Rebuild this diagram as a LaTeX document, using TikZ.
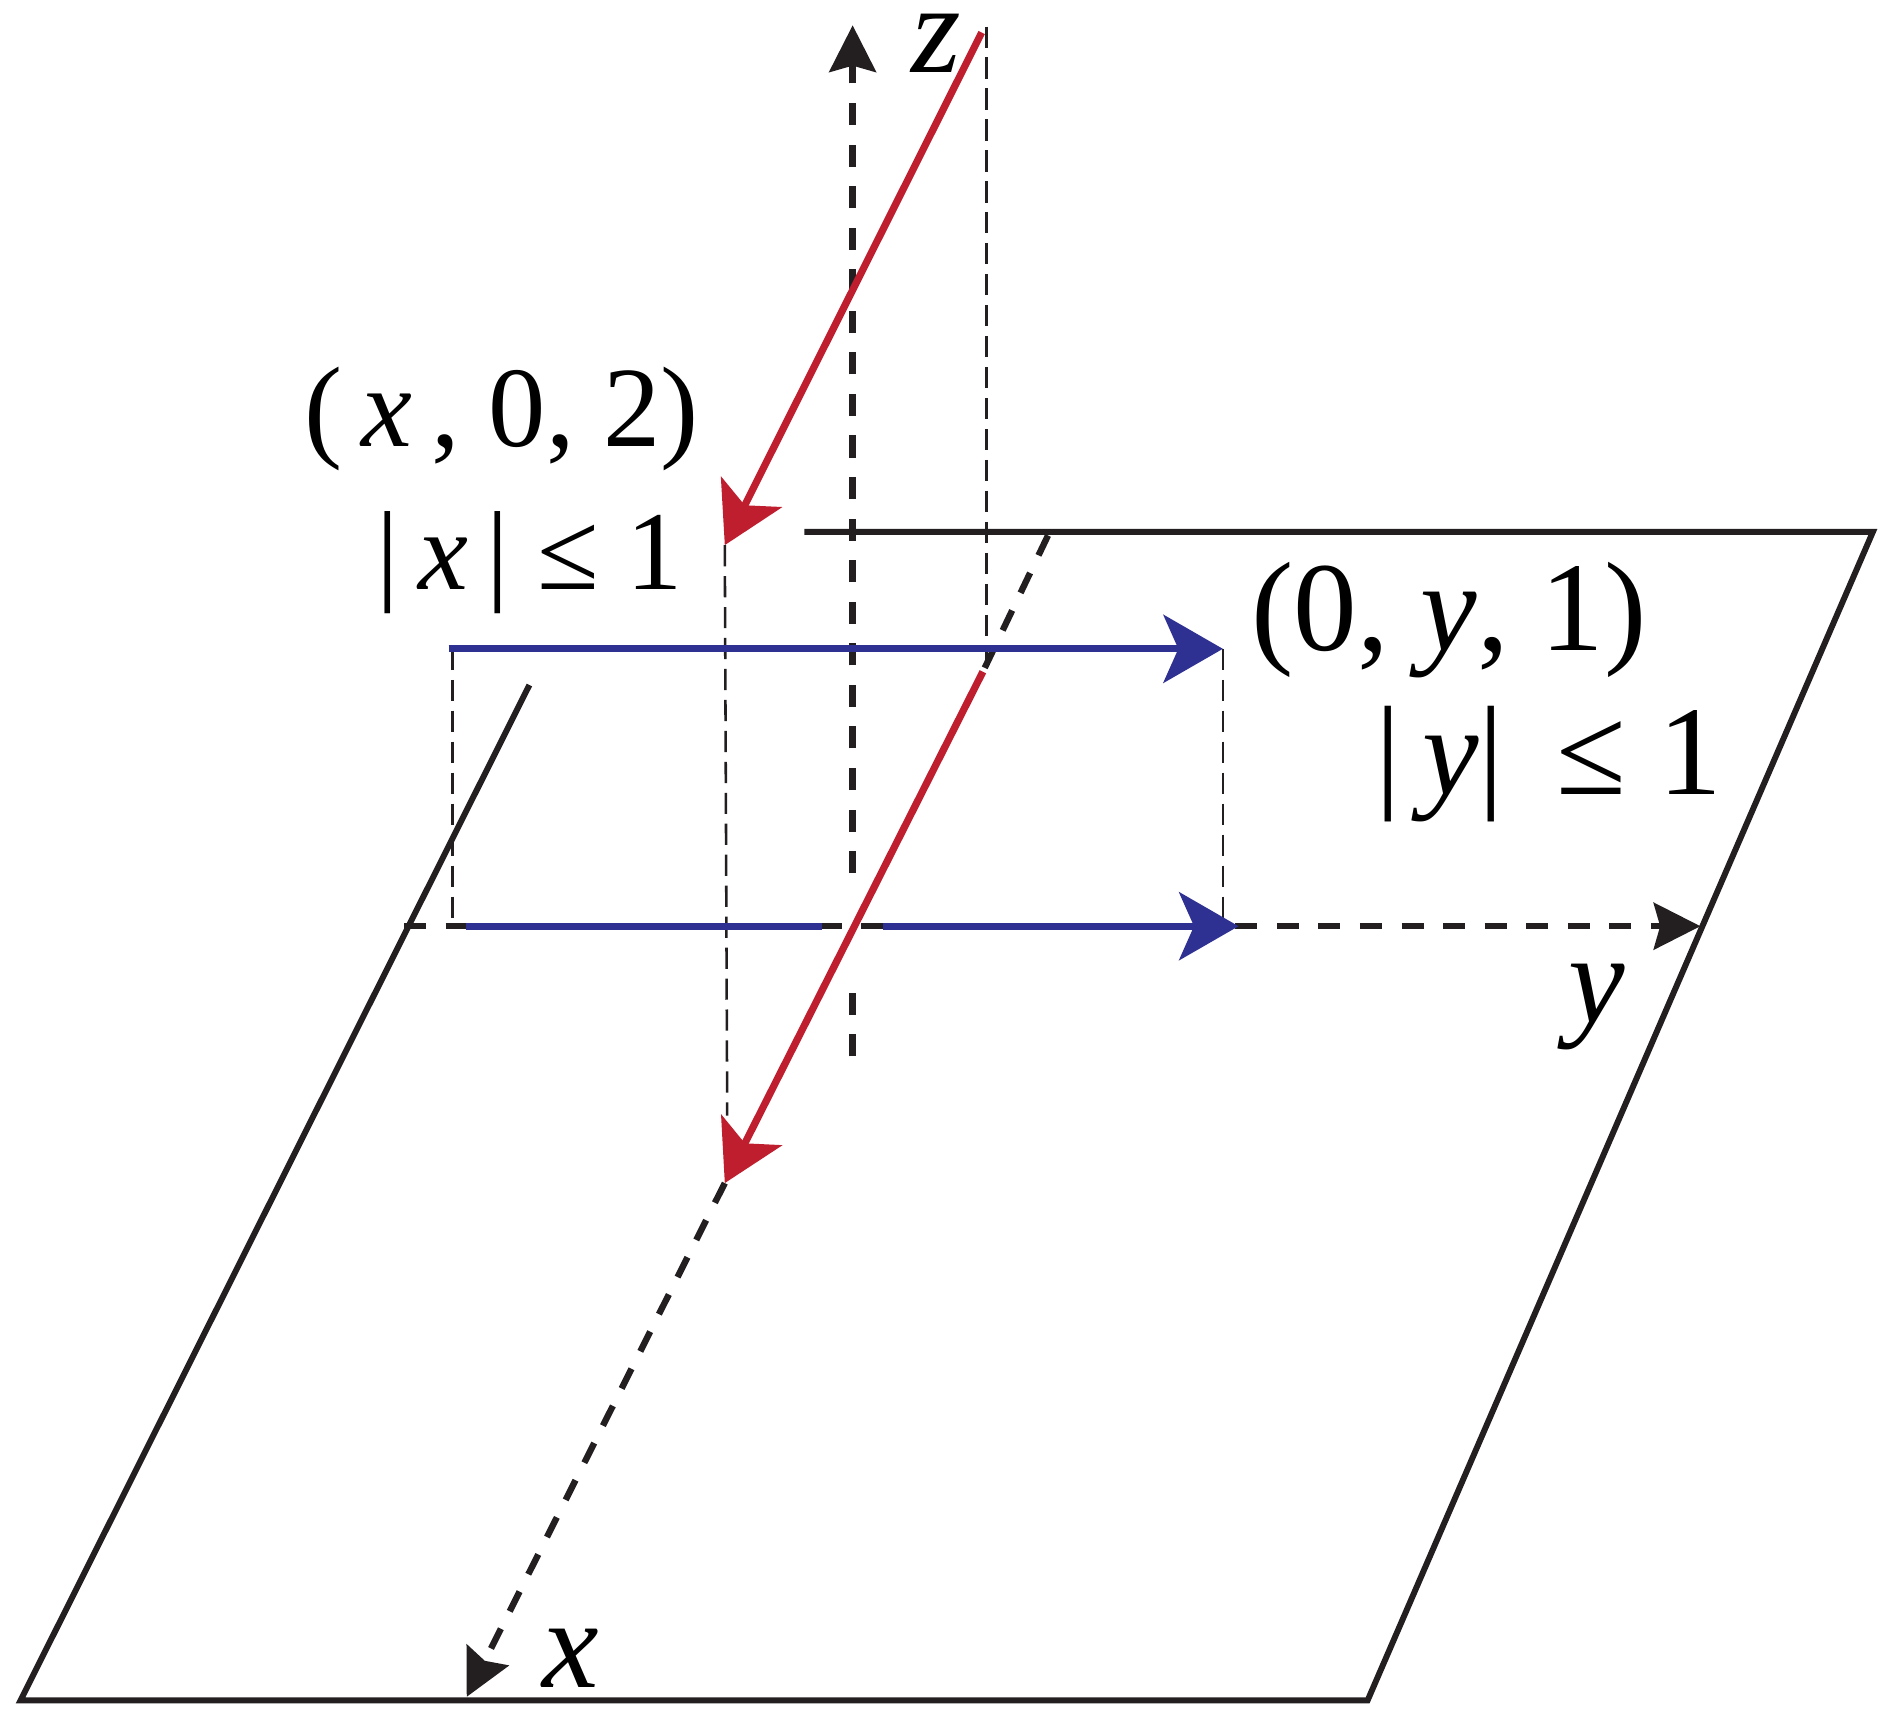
\documentclass[tikz,border=0pt]{standalone}
\usepackage{fontspec}
\setmainfont{Liberation Serif}
\usetikzlibrary{arrows.meta}
\definecolor{rouge}{RGB}{190,30,45}
\definecolor{bleu}{RGB}{46,49,146}
\definecolor{noir}{RGB}{35,31,32}

\begin{document}
\begin{tikzpicture}[x=0.01cm,y=-0.01cm,line width=1.4pt,
	axe/.style={noir, line width=1.5pt, dash pattern=on 5.2pt off 4.6pt},
	proj/.style={noir, line width=0.6pt, dash pattern=on 5pt off 2.3pt},
	fleche/.style={-{Stealth[length=14pt,width=16pt,inset=3.5pt]}},
	pointe/.style={-{Stealth[length=11pt,width=11pt,inset=1.5pt]}},
	lbl/.style={inner sep=0pt, anchor=base west}]
\useasboundingbox (0,0) rectangle (1568,1430);

% Plan z=0 : bord gauche coupe en haut
\coordinate(p1) at (17,1410);
\coordinate(p2) at (1134,1410);
\coordinate(p3) at (1553,441);
\coordinate(p4) at (667,441);
\coordinate(p5) at (439,568);

% Axes
\coordinate(o) at (707,768);
\coordinate(zh) at (707,21);
\coordinate(zb) at (707,876);
\coordinate(zg1) at (707,724);
\coordinate(zg2) at (707,822);
\coordinate(yg) at (335,768);
\coordinate(yd) at (1410,768);
\coordinate(xh) at (869,444);
\coordinate(xb) at (387,1407);

% Droite (x,0,2) et sa projection
\coordinate(a1) at (814,27);
\coordinate(a2) at (601,452);
\coordinate(b1) at (815,557);
\coordinate(b2) at (601,981);

% Droite (0,y,1) et sa projection
\coordinate(c1) at (372,538);
\coordinate(c2) at (1014,538);
\coordinate(d1) at (386,768);
\coordinate(d2) at (1027,768);
\coordinate(dg1) at (682,768);
\coordinate(dg2) at (732,768);

%plan
\draw [noir] (p5)--(p1)--(p2)--(p3)--(p4);

%axes
\draw [axe, pointe] (zg1)--(zh);
\draw [axe] (zb)--(zg2);
\draw [axe, pointe] (yg)--(yd);
\draw [axe] (xh)--(b1);
\draw [axe, pointe] (b2)--(xb);

%traits de rappel
\draw [proj] (818,22)--(818,549);
\draw [proj] (a2)--(603,925);
\draw [proj] (375,538)--(375,768);
\draw [proj] (c2)--(1014,768);

%(0,y,1)
\draw [bleu, line width=1.7pt, fleche] (c1)--(c2);
\draw [bleu, line width=1.7pt] (d1)--(dg1);
\draw [bleu, line width=1.7pt, fleche] (dg2)--(d2);

%(x,0,2)
\draw [rouge, line width=1.7pt, fleche] (a1)--(a2);
\draw [rouge, line width=1.7pt, fleche] (b1)--(b2);

%textes
\node [lbl, font=\fontsize{27}{30}\selectfont] (lx) at (250,370) {(\,\textit{x}\,, 0, 2)};
\node [lbl, font=\fontsize{26.5}{30}\selectfont] (ix) at (310,489) {|\,\textit{x}\,| ≤ 1};
\node [lbl, font=\fontsize{30}{34}\selectfont] (ly) at (1035,539) {(0, \textit{y}, 1)};
\node [lbl, font=\fontsize{30}{34}\selectfont] (iy) at (1138,659) {|\,\textit{y}| \,≤ 1};
\node [inner sep=0pt, font=\fontsize{30}{34}\selectfont] (nz) at (776,36) {\textit{z}};
\node [inner sep=0pt, font=\fontsize{30}{34}\selectfont] (ny) at (1324,835) {\textit{y}};
\node [inner sep=0pt, font=\fontsize{30}{34}\selectfont] (nx) at (473,1375) {\textit{x}};

\end{tikzpicture}
\end{document}
